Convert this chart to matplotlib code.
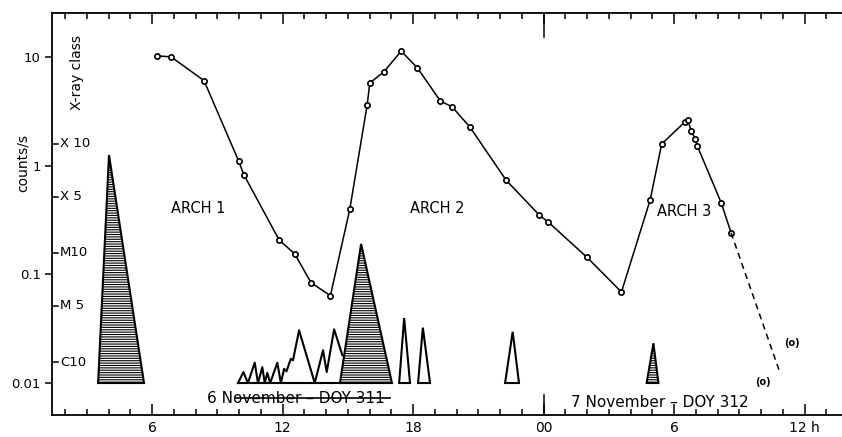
import numpy as np
import matplotlib.pyplot as plt
from matplotlib.ticker import NullLocator

plt.rcParams['font.family'] = 'DejaVu Sans'
plt.rcParams['hatch.linewidth'] = 0.8

# hours counted from 00 UT, 6 November (24 = 00 UT 7 November)
flux_t = [6.22, 6.87, 8.39, 9.99, 10.22, 11.84, 12.56, 13.31, 14.20, 15.09,
          15.89, 16.01, 16.67, 17.45, 18.20, 19.26, 19.79, 20.62, 22.28, 23.81,
          24.21, 26.00, 27.58, 28.90, 29.43, 30.51, 30.64, 30.78, 30.97, 31.07,
          32.17, 32.62]
flux_v = [10.2, 10.0, 6.04, 1.09, 0.825, 0.207, 0.154, 0.0837, 0.0636, 0.396,
          3.61, 5.75, 7.31, 11.3, 7.91, 3.91, 3.48, 2.25, 0.733, 0.349,
          0.303, 0.143, 0.0687, 0.483, 1.58, 2.53, 2.63, 2.08, 1.77, 1.51,
          0.453, 0.241]
# extrapolated decay (dashed)
decay_t = [32.62, 34.87]
decay_v = [0.241, 0.0124]

# flares: start, peak time, end, peak level, hatched
flare_start = [3.52, 14.64, 17.36, 18.23, 22.23, 28.74]
flare_peak_t = [4.02, 15.61, 17.59, 18.45, 22.58, 29.05]
flare_end = [5.63, 17.03, 17.86, 18.78, 22.87, 29.28]
flare_peak_v = [1.25, 0.190, 0.0396, 0.0323, 0.0296, 0.0232]
flare_hatched = [True, True, False, False, False, True]

# cluster of small flares 10-15 h
saw_t = [9.95, 10.20, 10.41, 10.72, 10.87, 11.07, 11.18, 11.30, 11.43, 11.76,
         11.92, 12.07, 12.18, 12.38, 12.48, 12.76, 13.48, 13.86, 14.03, 14.37,
         14.75]
saw_v = [0.01, 0.0126, 0.01, 0.0154, 0.01, 0.0140, 0.01, 0.0124, 0.01, 0.0154,
         0.01, 0.0135, 0.0128, 0.0167, 0.0162, 0.0305, 0.01, 0.0200, 0.0126, 0.0312,
         0.0180]

class_labels = ['X 10', 'X 5', 'M10', 'M 5', 'C10']
class_levels = [1.58, 0.514, 0.157, 0.0511, 0.0156]

tick_hours = [6, 12, 18, 24, 30, 36]
tick_names = ['6', '12', '18', '00', '6', '12 h']

base = 0.01

fig = plt.figure(figsize=(8.42, 4.37), dpi=100)
ax = fig.add_axes([52/842, 22/437, 790/842, 402/437])
ax.set_yscale('log')
ax.set_xlim(1.40, 37.72)
ax.set_ylim(0.00508, 25.3)

for s in ['left', 'top', 'bottom']:
    ax.spines[s].set_linewidth(1.3)
ax.spines['right'].set_visible(False)

ax.set_yticks([0.01, 0.1, 1, 10])
ax.set_yticklabels(['0.01', '0.1', '1', '10'])
ax.yaxis.set_minor_locator(NullLocator())
ax.tick_params(axis='y', direction='out', length=5, width=1.1, labelsize=9.5, pad=3)

ax.set_xticks(tick_hours)
ax.set_xticklabels(tick_names)
ax.set_xticks(np.arange(2, 38), minor=True)
ax.tick_params(axis='x', which='both', direction='in', top=True, bottom=True,
               width=1.1, labelsize=10, pad=4)
ax.tick_params(axis='x', which='major', length=8)
ax.tick_params(axis='x', which='minor', length=4)
# long tick at midnight
xt = ax.get_xaxis_transform()
ax.plot([24, 24], [0, 0.05], color='black', lw=1.1, transform=xt, clip_on=False)
ax.plot([24, 24], [0.94, 1], color='black', lw=1.1, transform=xt, clip_on=False)

# X-ray class scale inside the left axis
yt = ax.get_yaxis_transform()
for lab, lev in zip(class_labels, class_levels):
    ax.plot([0, 0.008], [lev, lev], color='black', lw=1.1, transform=yt)
    ax.text(0.01, lev, lab, transform=yt, ha='left', va='center', fontsize=9.5)

ax.text(0.0316, 0.851, 'X-ray class', transform=ax.transAxes, rotation=90,
        ha='center', va='center', fontsize=10)
fig.text(23/842, 1 - 163/437, 'counts/s', rotation=90, ha='center', va='center',
         fontsize=10)

# flares
for t0, tp, t1, vp, h in zip(flare_start, flare_peak_t, flare_end,
                             flare_peak_v, flare_hatched):
    ax.fill([t0, tp, t1], [base, vp, base], facecolor='white', edgecolor='black',
            lw=1.5, hatch='-------' if h else None, zorder=3)
ax.plot(saw_t, saw_v, color='black', lw=1.5, zorder=2)
ax.plot([saw_t[0], flare_start[1]], [base, base], color='black', lw=1.5, zorder=2)

# count-rate curve
ax.plot(flux_t, flux_v, color='black', lw=1.1, marker='o', ms=3.8, mfc='white',
        mew=1.2, zorder=4)
ax.plot(decay_t, decay_v, color='black', lw=1.1, ls=(0, (4, 3)), zorder=4)
ax.text(35.43, 0.0233, '(o)', fontsize=7, fontweight='bold', ha='center', va='center')
ax.text(34.09, 0.0102, '(o)', fontsize=7, fontweight='bold', ha='center', va='center')

ax.text(8.11, 0.399, 'ARCH 1', fontsize=10.5, ha='center', va='center')
ax.text(19.10, 0.399, 'ARCH 2', fontsize=10.5, ha='center', va='center')
ax.text(30.46, 0.382, 'ARCH 3', fontsize=10.5, ha='center', va='center')

ax.text(12.62, 0.00728, '6 November \u2013 DOY 311', fontsize=11, ha='center',
        va='center')
ax.plot([9.85, 16.95], [0.00728, 0.00728], color='black', lw=1.2)
ax.text(29.36, 0.00668, '7 November \u2013 DOY 312', fontsize=11, ha='center',
        va='center')

fig.savefig('out.png', dpi=100)
